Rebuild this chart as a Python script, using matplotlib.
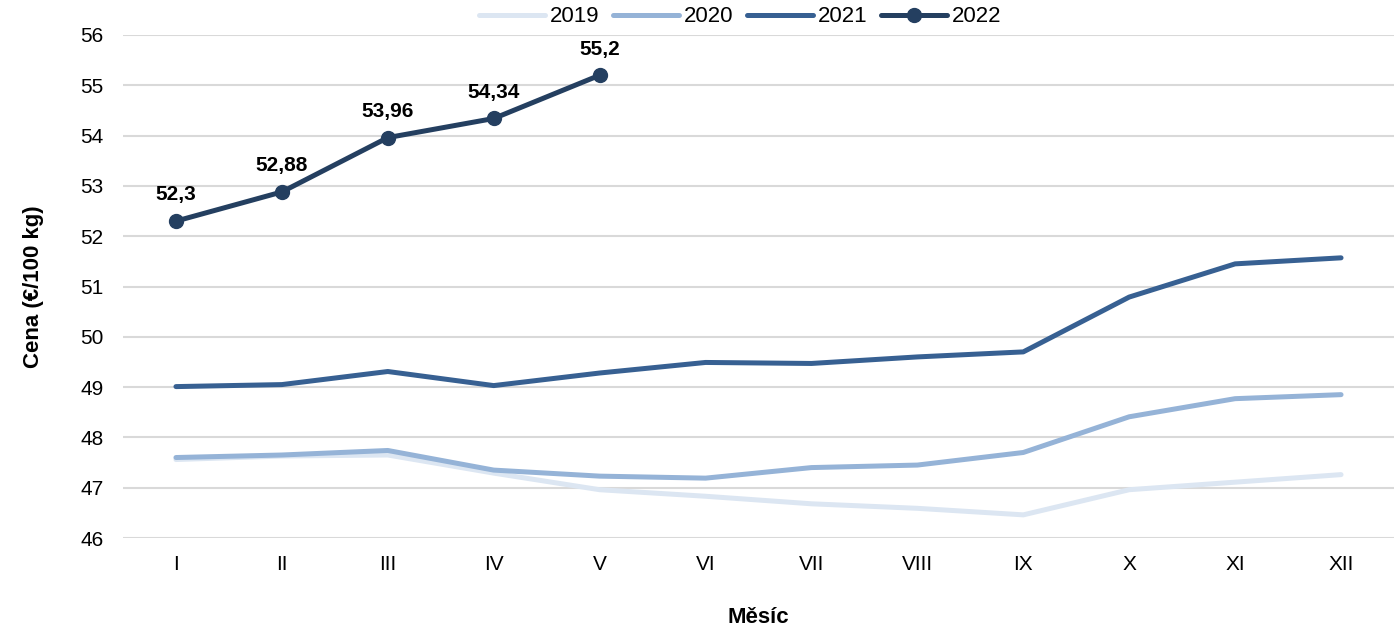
import matplotlib
matplotlib.use("Agg")
import matplotlib.pyplot as plt

plt.rcParams['font.family'] = ['Liberation Sans', 'DejaVu Sans']

months = ["I", "II", "III", "IV", "V", "VI", "VII", "VIII", "IX", "X", "XI", "XII"]
y2019 = [47.56, 47.63, 47.65, 47.29, 46.96, 46.83, 46.68, 46.59, 46.46, 46.96, 47.11, 47.26]
y2020 = [47.60, 47.65, 47.74, 47.35, 47.23, 47.19, 47.40, 47.45, 47.70, 48.41, 48.77, 48.85]
y2021 = [49.01, 49.05, 49.31, 49.03, 49.28, 49.49, 49.47, 49.60, 49.70, 50.79, 51.45, 51.57]
y2022 = [52.30, 52.88, 53.96, 54.34, 55.20]
labels2022 = ["52,3", "52,88", "53,96", "54,34", "55,2"]

fig = plt.figure(figsize=(13.94, 6.28), dpi=100)
ax = fig.add_axes([123/1394, 90/628, 1 - 123/1394, (538 - 35)/628])

x = list(range(len(months)))
ax.plot(x, y2019, color='#dce6f2', lw=3.6, solid_capstyle='round', label='2019')
ax.plot(x, y2020, color='#95b3d7', lw=3.6, solid_capstyle='round', label='2020')
ax.plot(x, y2021, color='#376092', lw=3.6, solid_capstyle='round', label='2021')
ax.plot(x[:len(y2022)], y2022, color='#243f60', lw=3.6, marker='o', ms=10,
        solid_capstyle='round', label='2022')

for xi, yi, t in zip(x, y2022, labels2022):
    ax.annotate(t, (xi, yi), xytext=(0, 12), textcoords='offset points',
                ha='center', va='bottom', fontsize=15, fontweight='bold')

ax.set_xlim(-0.5, 11.5)
ax.set_ylim(46, 56)
ax.set_yticks(range(46, 57))
ax.set_xticks(x)
ax.set_xticklabels(months)
ax.tick_params(length=0, labelsize=15, pad=12)
ax.tick_params(axis='y', pad=14)
ax.grid(axis='y', color='#d9d9d9', lw=1.5)
ax.set_axisbelow(True)
for s in ax.spines.values():
    s.set_visible(False)

ax.set_ylabel("Cena (€/100 kg)", fontsize=16, fontweight='bold', labelpad=26)
ax.set_xlabel("Měsíc", fontsize=16, fontweight='bold', labelpad=24)

fig.legend(loc='center', bbox_to_anchor=(740/1394, 1 - 17/628), ncol=4, frameon=False,
           fontsize=16, handlelength=3.0, columnspacing=0.6, handletextpad=0.2)

fig.savefig("out.png", dpi=100)
